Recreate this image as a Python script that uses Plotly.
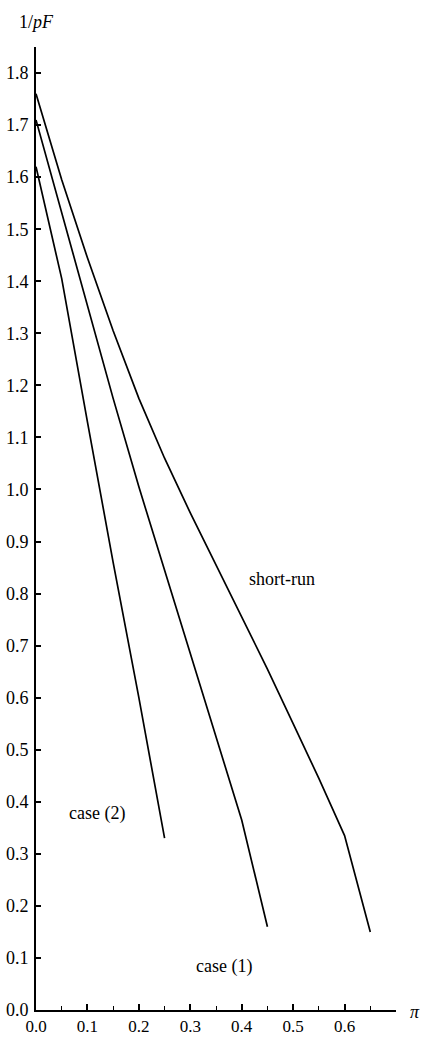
import plotly.graph_objects as go

# pi values
pi_case2 = [0.0, 0.05, 0.10, 0.15, 0.20, 0.25]
inv_pF_case2 = [1.62, 1.405, 1.13, 0.86, 0.60, 0.33]

pi_case1 = [0.0, 0.05, 0.10, 0.15, 0.20, 0.25, 0.30, 0.35, 0.40, 0.45]
inv_pF_case1 = [1.71, 1.53, 1.35, 1.175, 1.005, 0.845, 0.685, 0.525, 0.365, 0.16]

pi_short = [0.0, 0.05, 0.10, 0.15, 0.20, 0.25, 0.30, 0.35, 0.40, 0.45, 0.50, 0.55, 0.60, 0.65]
inv_pF_short = [1.76, 1.595, 1.445, 1.305, 1.175, 1.06, 0.955, 0.855, 0.755, 0.655, 0.55, 0.445, 0.335, 0.15]

x_ticks = [0.0, 0.1, 0.2, 0.3, 0.4, 0.5, 0.6, 0.7]
x_ticklabels = ["0.0", "0.1", "0.2", "0.3", "0.4", "0.5", "0.6", ""]
y_ticks = [round(0.1 * i, 1) for i in range(19)]
y_ticklabels = ["%.1f" % v for v in y_ticks]

labels = [("case (2)", 0.118, 0.378), ("case (1)", 0.365, 0.083), ("short-run", 0.478, 0.828)]

FONT = "Liberation Serif"
line = dict(color="black", width=1.7)

fig = go.Figure()
for xs, ys in [(pi_case2, inv_pF_case2), (pi_case1, inv_pF_case1), (pi_short, inv_pF_short)]:
    fig.add_trace(go.Scatter(x=xs, y=ys, mode="lines", line=line, showlegend=False, hoverinfo="skip"))

for txt, xv, yv in labels:
    fig.add_annotation(x=xv, y=yv, text=txt, showarrow=False, xref="x", yref="y",
                       font=dict(family=FONT, size=18, color="black"))

fig.add_annotation(x=0, y=1.0, xref="paper", yref="paper", text="1/<i>pF</i>", showarrow=False,
                   xanchor="center", yanchor="middle", yshift=25, xshift=0,
                   font=dict(family=FONT, size=18, color="black"))
fig.add_annotation(x=1.0, y=0, xref="paper", yref="paper", text="<i>π</i>", showarrow=False,
                   xanchor="left", yanchor="middle", xshift=12, yshift=-2,
                   font=dict(family=FONT, size=18, color="black"))

fig.update_layout(
    width=426, height=1037,
    margin=dict(l=36, r=30, t=47, b=27, autoexpand=False),
    paper_bgcolor="white", plot_bgcolor="white",
    font=dict(family=FONT, size=18, color="black"),
    xaxis=dict(range=[0, 0.7], tickvals=x_ticks, ticktext=x_ticklabels,
               ticks="inside", ticklen=6, tickwidth=1.5, tickcolor="black",
               minor=dict(tickvals=[0.05, 0.15, 0.25, 0.35, 0.45, 0.55, 0.65], ticks="inside", ticklen=4,
                          tickwidth=1.3, tickcolor="black"),
               showline=True, linecolor="black", linewidth=1.7, showgrid=False, zeroline=False,
               automargin=False, ticklabelstandoff=0, tickfont=dict(family=FONT, size=17)),
    yaxis=dict(range=[0, 1.85], tickvals=y_ticks, ticktext=y_ticklabels,
               ticks="inside", ticklen=5, tickwidth=1.5, tickcolor="black",
               showline=True, linecolor="black", linewidth=1.7, showgrid=False, zeroline=False,
               automargin=False, ticklabelstandoff=2, tickfont=dict(family=FONT, size=18)),
)

fig.write_html("out.html", config={"displayModeBar": False},
               post_script="document.body.style.margin='0';")
